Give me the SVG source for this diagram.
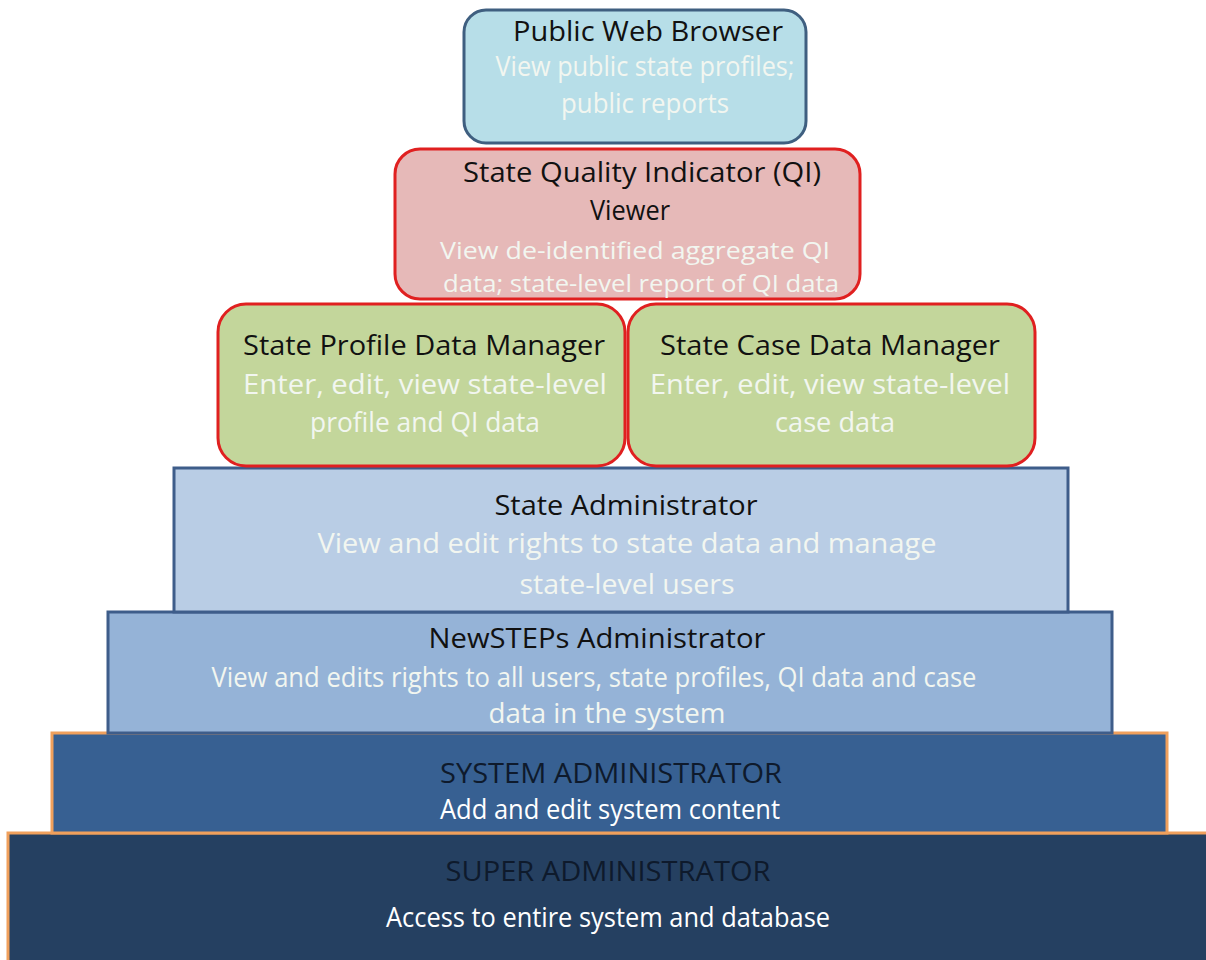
<svg xmlns="http://www.w3.org/2000/svg" width="1206" height="960" viewBox="0 0 1206 960">
<style>
text{font-family:"Open Sans","Liberation Sans",sans-serif;text-anchor:middle;font-size:27px}
.t{fill:#111111}
.w{fill:#f2f6f0}
.s{font-size:24px}
.wd{fill:#ffffff}
.blk{fill:#0e1a2c}
</style>
<rect width="1206" height="960" fill="#ffffff"/>
<g id="super-admin">
<rect x="8" y="833" width="1210" height="140" fill="#254061" stroke="#f0a05c" stroke-width="3"/>
<text class="blk" x="608" y="881" textLength="325" lengthAdjust="spacingAndGlyphs">SUPER ADMINISTRATOR</text>
<text class="wd" x="608" y="927" textLength="444" lengthAdjust="spacingAndGlyphs">Access to entire system and database</text>
</g>
<g id="system-admin">
<rect x="52" y="733" width="1115" height="100" fill="#376092" stroke="#f0a05c" stroke-width="3"/>
<text class="blk" x="611" y="783" textLength="342" lengthAdjust="spacingAndGlyphs">SYSTEM ADMINISTRATOR</text>
<text class="wd" x="610" y="819" textLength="340" lengthAdjust="spacingAndGlyphs">Add and edit system content</text>
</g>
<g id="newsteps-admin">
<rect x="108" y="612" width="1004" height="121" fill="#95b3d7" stroke="#3e5d8a" stroke-width="3"/>
<text class="t" x="597" y="648" textLength="337" lengthAdjust="spacingAndGlyphs">NewSTEPs Administrator</text>
<text class="w" x="594" y="687" textLength="765" lengthAdjust="spacingAndGlyphs">View and edits rights to all users, state profiles, QI data and case</text>
<text class="w" x="607" y="723" textLength="237" lengthAdjust="spacingAndGlyphs">data in the system</text>
</g>
<g id="state-admin">
<rect x="174" y="468" width="894" height="144" fill="#b9cde5" stroke="#3e5d8a" stroke-width="3"/>
<text class="t" x="626" y="515" textLength="263" lengthAdjust="spacingAndGlyphs">State Administrator</text>
<text class="w" x="627" y="553" textLength="619" lengthAdjust="spacingAndGlyphs">View and edit rights to state data and manage</text>
<text class="w" x="627" y="594" textLength="215" lengthAdjust="spacingAndGlyphs">state-level users</text>
</g>
<g id="state-profile-manager">
<rect x="218" y="304" width="407" height="162" rx="28" fill="#c3d69b" stroke="#e02020" stroke-width="3"/>
<text class="t" x="424" y="355" textLength="362" lengthAdjust="spacingAndGlyphs">State Profile Data Manager</text>
<text class="w" x="425" y="394" textLength="364" lengthAdjust="spacingAndGlyphs">Enter, edit, view state-level</text>
<text class="w" x="425" y="432" textLength="230" lengthAdjust="spacingAndGlyphs">profile and QI data</text>
</g>
<g id="state-case-manager">
<rect x="628" y="304" width="407" height="162" rx="28" fill="#c3d69b" stroke="#e02020" stroke-width="3"/>
<text class="t" x="830" y="355" textLength="340" lengthAdjust="spacingAndGlyphs">State Case Data Manager</text>
<text class="w" x="830" y="394" textLength="360" lengthAdjust="spacingAndGlyphs">Enter, edit, view state-level</text>
<text class="w" x="835" y="432" textLength="120" lengthAdjust="spacingAndGlyphs">case data</text>
</g>
<g id="qi-viewer">
<rect x="395" y="149" width="465" height="150" rx="25" fill="#e6b9b8" stroke="#e02020" stroke-width="3"/>
<text class="t" x="642" y="182" textLength="358" lengthAdjust="spacingAndGlyphs">State Quality Indicator (QI)</text>
<text class="t" x="630" y="220" textLength="80" lengthAdjust="spacingAndGlyphs">Viewer</text>
<text class="w s" x="635" y="259" textLength="390" lengthAdjust="spacingAndGlyphs">View de-identified aggregate QI</text>
<text class="w s" x="641" y="292" textLength="396" lengthAdjust="spacingAndGlyphs">data; state-level report of QI data</text>
</g>
<g id="public-web-browser">
<rect x="464" y="10" width="342" height="133" rx="22" fill="#b7dee8" stroke="#3f5f80" stroke-width="3"/>
<text class="t" x="648" y="41" textLength="270" lengthAdjust="spacingAndGlyphs">Public Web Browser</text>
<text class="w" x="645" y="76" textLength="299" lengthAdjust="spacingAndGlyphs">View public state profiles;</text>
<text class="w" x="645" y="113" textLength="168" lengthAdjust="spacingAndGlyphs">public reports</text>
</g>
<g id="connectors"></g>
</svg>
